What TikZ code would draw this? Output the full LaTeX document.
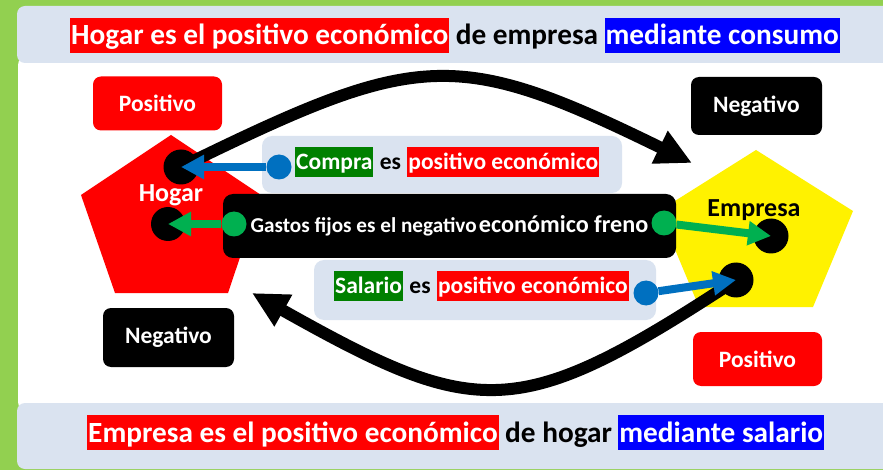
\documentclass[tikz,border=0pt]{standalone}
\usepackage{fontspec}
\setmainfont{Carlito}
\usetikzlibrary{arrows.meta,positioning}
\definecolor{frame}{RGB}{146,208,80}
\definecolor{banner}{RGB}{218,227,240}
\definecolor{hlgreen}{RGB}{0,128,0}
\definecolor{arrblue}{RGB}{0,112,192}
\definecolor{arrgreen}{RGB}{0,176,80}

\begin{document}
\begin{tikzpicture}[x=1pt,y=-1pt,node distance=0pt,
  every node/.style={font=\bfseries},
  big/.style={font=\bfseries\fontsize{29.3}{33}\selectfont},
  mid/.style={font=\bfseries\fontsize{23.5}{27}\selectfont},
  tag/.style={mid,rounded corners=8pt,minimum width=129pt,minimum height=54pt,text=white},
  bighl/.style={big,inner xsep=1pt,inner ysep=0pt,text height=27pt,text depth=8pt,text=white},
  smallhl/.style={mid,inner xsep=1pt,inner ysep=0pt,text height=23pt,text depth=7pt,text=white},
  word/.style={inner xsep=6pt,inner ysep=0pt},
  lightbox/.style={fill=banner,rounded corners=10pt},
  ball/.style={circle,fill,inner sep=0pt,minimum size=#1},
  smallarrow/.style={line width=8pt,-{Triangle[length=23pt,width=23pt]}},
  bigarrow/.style={line width=12pt,-{Triangle[length=36pt,width=34pt]}}]

  \fill[frame] (0,0) rectangle (883,470);
  \useasboundingbox (0,0) rectangle (883,470);
  \fill[white,rounded corners=10pt] (18,55) rectangle (900,412);
  \fill[banner,rounded corners=8pt] (17,6) rectangle (900,63);
  \fill[banner,rounded corners=8pt] (17,403) rectangle (900,469);

  \node[bighl,fill=red,anchor=base west] (top1) at (70,45) {Hogar es el positivo económico};
  \node[big,word,base right=of top1] (top2) {de empresa};
  \node[bighl,fill=blue,base right=of top2] (top3) {mediante consumo};

  \node[bighl,fill=red,anchor=base west] (bot1) at (87,442) {Empresa es el positivo económico};
  \node[big,word,base right=of bot1] (bot2) {de hogar};
  \node[bighl,fill=blue,base right=of bot2] (bot3) {mediante salario};

  \node[tag,fill=red] (pos1) at (157.5,103.5) {Positivo};
  \node[tag,fill=black,minimum width=131pt,minimum height=58pt] (neg1) at (756.5,106) {Negativo};
  \node[tag,fill=black,minimum width=131pt,minimum height=59pt] (neg2) at (168.5,337.5) {Negativo};
  \node[tag,fill=red] (pos2) at (757.5,359) {Positivo};

  \fill[red] (171,135) -- (261,195) -- (228,293) -- (115,293) -- (81,195) -- cycle;
  \fill[yellow] (756,150) -- (853,211) -- (813,307) -- (699,307) -- (659,211) -- cycle;
  \node[font=\bfseries\fontsize{26}{30}\selectfont,text=white] (hogar) at (171,195) {Hogar};
  \node[font=\bfseries\fontsize{26}{30}\selectfont] (empresa) at (754,210) {Empresa};

  \fill[lightbox] (262,136) rectangle (622,193);
  \fill[lightbox] (314,260) rectangle (656,320);
  \node[smallhl,fill=hlgreen,anchor=base west] (buy1) at (295,170) {Compra};
  \node[mid,word,base right=of buy1] (buy2) {es};
  \node[smallhl,fill=red,base right=of buy2] (buy3) {positivo económico};
  \node[smallhl,fill=hlgreen,anchor=base west] (pay1) at (334,294) {Salario};
  \node[mid,word,base right=of pay1] (pay2) {es};
  \node[smallhl,fill=red,base right=of pay2] (pay3) {positivo económico};

  \node[fill=black,text=white,rounded corners=10pt,minimum width=453pt,minimum height=64pt] (fixed) at (449.5,226)
    {{\fontsize{21.2}{24}\selectfont Gastos fijos es el negativo} {\fontsize{24.2}{28}\selectfont económico freno}};

  \node[ball=35pt] (hdot1) at (181,167) {};
  \node[ball=34pt] (hdot2) at (168,224) {};
  \node[ball=35pt] (edot1) at (771,236) {};
  \node[ball=35pt] (edot2) at (736,280) {};
  \coordinate (etip) at (692,163);
  \coordinate (htip) at (252,293);

  \draw[bigarrow] (hdot1.center) .. controls (418,51) and (455,47) .. (etip);
  \draw[bigarrow] (edot2.center) .. controls (518,423) and (478,420) .. (htip);

  \node[ball=25pt,arrblue] (cdot) at (279,167) {};
  \node[ball=25pt,arrgreen] (gdot1) at (234,224) {};
  \node[ball=25pt,arrgreen] (gdot2) at (664,223) {};
  \node[ball=25pt,arrblue] (sdot) at (646,293) {};
  \path[smallarrow,arrblue]
    (cdot) edge (hdot1.center)
    (sdot) edge (edot2.center);
  \path[smallarrow,arrgreen]
    (gdot1) edge (hdot2.center)
    (gdot2) edge (edot1.center);
\end{tikzpicture}
\end{document}
